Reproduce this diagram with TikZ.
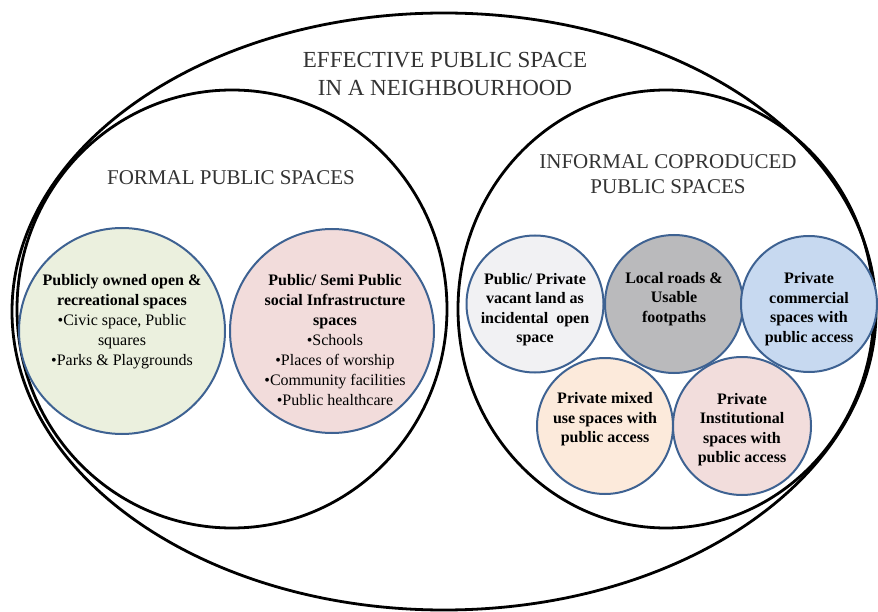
\documentclass[tikz,border=0pt]{standalone}
\usepackage{fontspec}
\setmainfont{Liberation Serif}
\usetikzlibrary{shapes.geometric, positioning}

\definecolor{rimblue}{RGB}{62,98,146}
\definecolor{parkgreen}{RGB}{235,240,222}
\definecolor{socialpink}{RGB}{242,220,219}
\definecolor{vacantgrey}{RGB}{241,241,243}
\definecolor{roadgrey}{RGB}{186,186,188}
\definecolor{shopblue}{RGB}{199,217,240}
\definecolor{mixedpeach}{RGB}{252,234,219}
\definecolor{instpink}{RGB}{242,221,220}

\begin{document}
\begin{tikzpicture}[
  x=1pt, y=-1pt,
  ring/.style={ellipse, draw, line width=2.8pt, inner sep=0pt},
  disc/.style={circle, draw=rimblue, line width=2pt, inner sep=0pt},
  heading/.style={align=center, text=black!80},
  bigtxt/.style={align=center, inner sep=0pt, font=\fontsize{16}{20}\selectfont},
  smalltxt/.style={align=center, inner sep=0pt, font=\bfseries\fontsize{16}{19.5}\selectfont}
]
\useasboundingbox (0,0) rectangle (878,612);

% Outer and the two inner sets
\node[ring, minimum width=864pt, minimum height=597pt] (whole) at (444,311.5) {};
\node[ring, minimum width=430pt, minimum height=438pt] (formal) at (232,309) {};
\node[ring, minimum width=416pt, minimum height=438pt] (informal) at (666,309) {};

% Headings
\node[heading, font=\fontsize{23}{28}\selectfont] (whole-t) at (445,74)
  {EFFECTIVE PUBLIC SPACE\\IN A NEIGHBOURHOOD};
\node[heading, font=\fontsize{21}{25}\selectfont] (formal-t) at (231,178)
  {FORMAL PUBLIC SPACES};
\node[heading, font=\fontsize{21}{25}\selectfont] (informal-t) at (668,174.5)
  {INFORMAL COPRODUCED\\PUBLIC SPACES};

% Formal public spaces
\node[disc, fill=parkgreen, minimum size=206pt] (parks) at (122,331) {};
\node[disc, fill=socialpink, minimum size=204pt] (social) at (332,331) {};
\node[bigtxt] (parks-t) at ([yshift=9pt]parks)
  {\textbf{Publicly owned open \&}\\\textbf{recreational spaces}\\•Civic space, Public\\squares\\•Parks \& Playgrounds};
\node[bigtxt] (social-t) at ([xshift=3pt, yshift=-9pt]social)
  {\textbf{Public/ Semi Public}\\\textbf{social Infrastructure}\\\textbf{spaces}\\•Schools\\•Places of worship\\•Community facilities\\•Public healthcare};

% Informal coproduced spaces, top row
\node[disc, fill=vacantgrey, minimum size=137pt] (vacant) at (535,304) {};
\node[disc, fill=roadgrey, minimum size=138pt] (roads) at (674,304) {};
\node[disc, fill=shopblue, minimum size=136pt] (shops) at (809,304) {};

% bottom row
\node[disc, fill=mixedpeach, minimum size=136pt] (mixed) at (605,426) {};
\node[disc, fill=instpink, minimum size=138pt] (inst) at (742,426) {};

\node[smalltxt] (vacant-t) at ([yshift=-5.5pt]vacant)
  {Public/ Private\\vacant land as\\incidental~ open\\space};
\node[smalltxt] (roads-t) at ([yshift=5pt]roads)
  {Local roads \&\\Usable\\footpaths};
\node[smalltxt] (shops-t) at ([yshift=-5pt]shops)
  {Private\\commercial\\spaces with\\public access};
\node[smalltxt] (mixed-t) at ([yshift=6.5pt]mixed)
  {Private mixed\\use spaces with\\public access};
\node[smalltxt] (inst-t) at ([yshift=-3.5pt]inst)
  {Private\\Institutional\\spaces with\\public access};

\end{tikzpicture}
\end{document}
